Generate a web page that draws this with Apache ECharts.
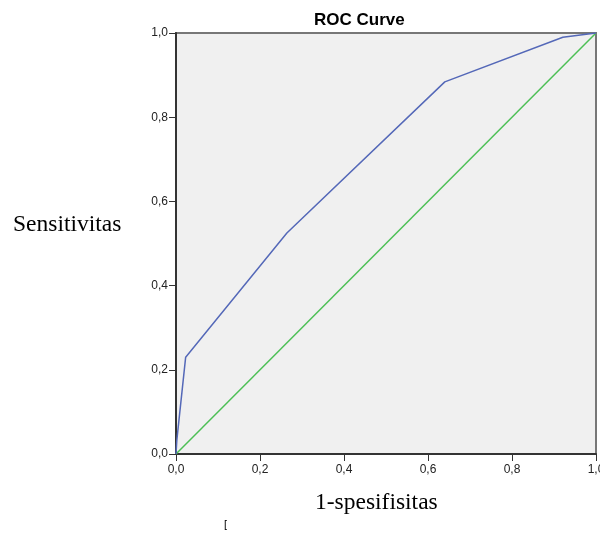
<!DOCTYPE html>
<html>
<head>
<meta charset="utf-8">
<script src="https://cdn.jsdelivr.net/npm/echarts@6/dist/echarts.min.js"></script>
<style>
  html, body { margin: 0; padding: 0; background: #fff; }
  #chart { width: 600px; height: 535px; }
</style>
</head>
<body>
<div id="chart"></div>
<script>
// ROC curve points (1-specificity, sensitivity)
var rocX = [0, 0.002, 0.023, 0.264, 0.64, 0.921, 1];
var rocY = [0, 0.033, 0.23, 0.525, 0.884, 0.99, 1];
// reference diagonal
var refX = [0, 1];
var refY = [0, 1];

var chart = echarts.init(document.getElementById('chart'));

function comma(v) {
    return v.toFixed(1).replace('.', ',');
}

var option = {
    animation: false,
    title: {
        text: 'ROC Curve',
        left: 309,
        top: 7,
        textStyle: {
            fontFamily: 'Liberation Sans',
            fontSize: 17,
            fontWeight: 'bold',
            color: '#000'
        }
    },
    grid: {
        left: 176,
        right: 4,
        top: 33,
        bottom: 81,
        outerBoundsMode: 'none',
        show: true,
        backgroundColor: '#f0f0f0',
        borderColor: '#777',
        borderWidth: 2
    },
    xAxis: {
        type: 'value',
        min: 0,
        max: 1,
        interval: 0.2,
        splitLine: { show: false },
        axisLine: { lineStyle: { color: '#333', width: 2 } },
        axisTick: { show: true, length: 7, lineStyle: { color: '#333' } },
        axisLabel: {
            formatter: comma,
            fontFamily: 'Liberation Sans',
            fontSize: 12,
            color: '#222',
            margin: 10,
            hideOverlap: false
        }
    },
    yAxis: {
        type: 'value',
        min: 0,
        max: 1,
        interval: 0.2,
        splitLine: { show: false },
        axisLine: { lineStyle: { color: '#333', width: 2 } },
        axisTick: { show: true, length: 7, lineStyle: { color: '#333' } },
        axisLabel: {
            formatter: comma,
            fontFamily: 'Liberation Sans',
            fontSize: 12,
            color: '#222',
            margin: 8
        }
    },
    graphic: [
        {
            type: 'text',
            left: 13,
            top: 213,
            style: {
                text: 'Sensitivitas',
                font: '23.5px "Liberation Serif"',
                fill: '#000'
            }
        },
        {
            type: 'text',
            left: 315,
            top: 491,
            style: {
                text: '1-spesifisitas',
                font: '23.5px "Liberation Serif"',
                fill: '#000'
            }
        },
        {
            type: 'text',
            left: 224,
            top: 519,
            style: {
                text: '[',
                font: '11px "Liberation Sans"',
                fill: '#000'
            }
        }
    ],
    series: [
        {
            type: 'line',
            data: rocX.map(function (x, i) { return [x, rocY[i]]; }),
            symbol: 'none',
            lineStyle: { color: '#5468b8', width: 1.5 },
            z: 3
        },
        {
            type: 'line',
            data: refX.map(function (x, i) { return [x, refY[i]]; }),
            symbol: 'none',
            lineStyle: { color: '#4cbf55', width: 1.5 },
            z: 2
        }
    ]
};

chart.setOption(option);
</script>
</body>
</html>
